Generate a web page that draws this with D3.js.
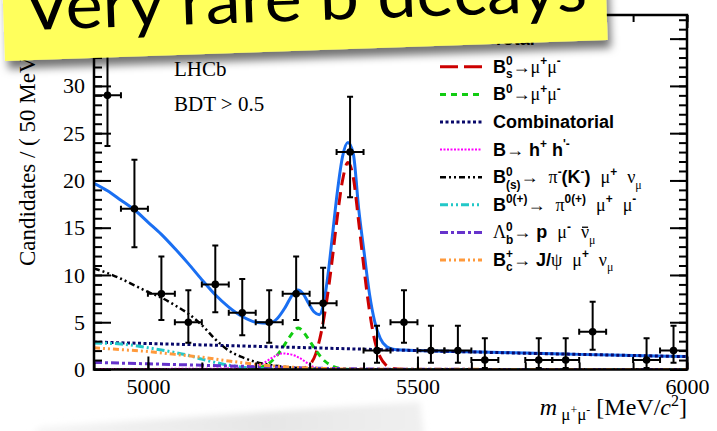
<!DOCTYPE html>
<html>
<head>
<meta charset="utf-8">
<script src="https://cdn.jsdelivr.net/npm/d3@7"></script>
<style>
  body { margin: 0; background: #fff; }
  svg { display: block; }
  text { white-space: pre; }
</style>
</head>
<body>
<svg id="chart" width="717" height="431"></svg>
<script>
// 50 MeV bins, centres
const binCentres = [4925, 4975, 5025, 5075, 5125, 5175, 5225, 5275, 5325, 5375, 5425,
                    5475, 5525, 5575, 5625, 5675, 5725, 5775, 5825, 5875, 5925, 5975]
const counts     = [29, 17, 8, 5, 9, 6, 5, 8, 7, 23, 2, 5, 2, 2, 1, 0, 1, 1, 4, 0, 1, 2]
const errLow     = [5.36, 4.08, 2.77, 2.16, 2.94, 2.38, 2.16, 2.77, 2.58, 4.77, 1.29,
                    2.16, 1.29, 1.29, 0.83, 0, 0.83, 0.83, 1.91, 0, 0.83, 1.29]
const errHigh    = [6.44, 5.20, 3.95, 3.38, 4.11, 3.58, 3.38, 3.95, 3.77, 5.86, 2.64,
                    3.38, 2.64, 2.64, 2.30, 1.84, 2.30, 2.30, 3.16, 1.84, 2.30, 2.64]

// fit components: [mass, candidates]
const totalFit = [[4900,19.7],[4925,18.9],[4950,17.9],[4975,16.9],[5000,15.6],[5025,14.3],[5050,12.8],
  [5075,11.2],[5100,9.5],[5125,7.9],[5150,6.6],[5175,5.6],[5200,5.0],[5225,4.9],[5240,5.4],[5255,6.6],
  [5268,7.9],[5278,8.4],[5288,8.0],[5298,7.0],[5308,6.1],[5318,5.8],[5326,7.0],[5334,10.0],[5342,14.0],
  [5351,18.6],[5361,22.5],[5371,24.0],[5381,22.8],[5391,17.0],[5401,12.4],[5411,8.0],[5421,5.0],
  [5431,3.3],[5443,2.4],[5455,2.15],[5475,2.06],[5500,2.0],[5600,1.88],[5700,1.74],[5800,1.6],
  [5900,1.48],[6000,1.38]]
const bsFit = [[4900,0],[5260,0],[5285,0.08],[5300,0.5],[5311,1.6],[5321,3.8],[5331,7.0],[5341,11.2],
  [5351,16.0],[5361,20.0],[5371,21.9],[5381,20.3],[5391,15.6],[5401,10.6],[5411,6.2],[5421,3.0],
  [5431,1.3],[5441,0.5],[5451,0.15],[5470,0.02],[5500,0],[6000,0]]
const bdFit = [[4900,0],[5180,0],[5200,0.1],[5215,0.35],[5230,0.9],[5245,1.9],[5260,3.2],[5270,4.0],
  [5279,4.4],[5288,4.0],[5298,3.2],[5313,1.9],[5328,0.9],[5343,0.35],[5358,0.1],[5380,0],[6000,0]]
const combFit = [[4900,2.9],[5000,2.75],[5100,2.6],[5200,2.45],[5300,2.3],[5400,2.15],[5500,2.0],
  [5600,1.86],[5700,1.72],[5800,1.6],[5900,1.48],[6000,1.36]]
const hhFit = [[4900,0.05],[5100,0.08],[5150,0.12],[5190,0.3],[5215,0.7],[5232,1.3],[5249,1.7],
  [5265,1.6],[5282,1.2],[5295,0.7],[5306,0.3],[5320,0.1],[5350,0.03],[6000,0.02]]
const pimunuFit = [[4900,10.7],[4925,10.2],[4950,9.6],[4975,8.9],[5000,8.2],[5025,7.6],[5050,6.8],
  [5075,5.9],[5100,4.7],[5125,3.2],[5150,2.0],[5175,1.3],[5200,0.8],[5225,0.5],[5250,0.3],
  [5300,0.1],[5350,0.02],[5400,0],[6000,0]]
const pimumuFit = [[4900,2.8],[4950,2.7],[5000,2.3],[5050,1.8],[5075,1.5],[5100,1.1],[5125,0.75],
  [5150,0.45],[5175,0.25],[5200,0.12],[5250,0.04],[5300,0.01],[6000,0]]
const lambdaFit = [[4900,0.75],[5000,0.6],[5100,0.45],[5200,0.3],[5300,0.15],[5400,0.06],[5500,0.02],[6000,0]]
const bcFit = [[4900,2.3],[4950,2.1],[5000,1.9],[5050,1.6],[5100,1.3],[5150,0.9],[5200,0.55],
  [5250,0.3],[5300,0.15],[5350,0.07],[5400,0.03],[6000,0]]

const legendLabels = [
  "Total",
  "B^{0}_{s}→μ^{+}μ^{-}",
  "B^{0}→μ^{+}μ^{-}",
  "Combinatorial",
  "B→ h^{+} h^{'-}",
  "B^{0}_{(s)}→  π^{-}(K^{-})  μ^{+}  ν_{μ}",
  "B^{0(+)}→  π^{0(+)}  μ^{+}  μ^{-}",
  "Λ^{0}_{b}→ p  μ^{-}  !{ν}_{μ}",
  "B^{+}_{c}→ J/ψ  μ^{+}  ν_{μ}"
]

const xMajorTicks = [5000, 5500, 6000]
const yMajorTicks = [0, 5, 10, 15, 20, 25, 30, 35]

const serif = "'Liberation Serif', 'Times New Roman', serif"
const sans = "'Liberation Sans', Arial, sans-serif"

const svg = d3.select('#chart')
const pLeft = 94, pRight = 687, pTop = 15, pBottom = 369.5

const x = d3.scaleLinear().domain([4900, 6000]).range([pLeft, pRight])
const y = d3.scaleLinear().domain([0, 37.5]).range([pBottom, pTop])

const defs = svg.append('defs')
defs.append('clipPath').attr('id', 'plotClip')
  .append('rect').attr('x', pLeft).attr('y', pTop).attr('width', pRight - pLeft).attr('height', pBottom - pTop)

const shadow = defs.append('filter').attr('id', 'shadow')
  .attr('x', '-10%').attr('y', '-50%').attr('width', '125%').attr('height', '220%')
shadow.append('feDropShadow').attr('dx', 3).attr('dy', 8).attr('stdDeviation', 4.5)
  .attr('flood-color', '#000').attr('flood-opacity', 0.55)

const blur = defs.append('filter').attr('id', 'blur')
blur.append('feGaussianBlur').attr('stdDeviation', 3)

const smudge = defs.append('linearGradient').attr('id', 'smudge')
smudge.append('stop').attr('offset', '0%').attr('stop-color', '#f6f6f6')
smudge.append('stop').attr('offset', '60%').attr('stop-color', '#e6e6e6')
smudge.append('stop').attr('offset', '100%').attr('stop-color', '#f0f0f0')

// faint paper shadow below the plot
svg.append('path')
  .attr('d', 'M30,436 L40,427 L420,402 L424,436 Z')
  .attr('fill', 'url(#smudge)')
  .attr('filter', 'url(#blur)')

const fitCurves = [
  { data: totalFit,  colour: '#1a6ff2', width: 3,   dash: null },
  { data: bsFit,     colour: '#cc0000', width: 3,   dash: '13 7' },
  { data: bdFit,     colour: '#11cc11', width: 3,   dash: '6 5' },
  { data: combFit,   colour: '#08086a', width: 3,   dash: '3 2.5' },
  { data: hhFit,     colour: '#ff00ff', width: 2,   dash: '2 1.5' },
  { data: pimunuFit, colour: '#000000', width: 2.5, dash: '6 3 2 3 2 3' },
  { data: pimumuFit, colour: '#22c8c8', width: 3,   dash: '8 3 2 3 2 3' },
  { data: lambdaFit, colour: '#6633cc', width: 3,   dash: '8 3 3 3' },
  { data: bcFit,     colour: '#ff9a3c', width: 3,   dash: '6 3 2 3 2 3' }
]

const line = d3.line()
  .x(d => x(d[0]))
  .y(d => y(d[1]))
  .curve(d3.curveMonotoneX)

const plot = svg.append('g').attr('clip-path', 'url(#plotClip)')

plot.selectAll('path.fit').data(fitCurves)
  .join('path')
  .attr('class', 'fit')
  .attr('d', d => line(d.data))
  .attr('fill', 'none')
  .attr('stroke', d => d.colour)
  .attr('stroke-width', d => d.width)
  .attr('stroke-dasharray', d => d.dash)

// data points with Poisson error bars
const points = binCentres.map((m, i) => ({ m, n: counts[i], lo: errLow[i], hi: errHigh[i] }))
  .filter(d => d.n > 0)

const pts = plot.selectAll('g.pt').data(points)
  .join('g')
  .attr('class', 'pt')
  .attr('stroke', '#000')
  .attr('stroke-width', 2)

pts.append('line')
  .attr('x1', d => x(d.m)).attr('x2', d => x(d.m))
  .attr('y1', d => y(d.n - d.lo)).attr('y2', d => y(d.n + d.hi))
pts.append('line')
  .attr('x1', d => x(d.m - 25)).attr('x2', d => x(d.m + 25))
  .attr('y1', d => y(d.n)).attr('y2', d => y(d.n))
pts.each(function(d) {
  const g = d3.select(this)
  const cx = x(d.m), cy = y(d.n)
  g.append('line').attr('x1', cx - 3).attr('x2', cx + 3).attr('y1', y(d.n + d.hi)).attr('y2', y(d.n + d.hi))
  g.append('line').attr('x1', cx - 3).attr('x2', cx + 3).attr('y1', y(d.n - d.lo)).attr('y2', y(d.n - d.lo))
  g.append('line').attr('x1', x(d.m - 25)).attr('x2', x(d.m - 25)).attr('y1', cy - 3).attr('y2', cy + 3)
  g.append('line').attr('x1', x(d.m + 25)).attr('x2', x(d.m + 25)).attr('y1', cy - 3).attr('y2', cy + 3)
})
pts.append('circle')
  .attr('cx', d => x(d.m)).attr('cy', d => y(d.n))
  .attr('r', 3.8)
  .attr('fill', '#000')
  .attr('stroke', 'none')

// axes: ticks point into the frame, like ROOT
function styleAxis(g) {
  g.select('.domain').remove()
  g.selectAll('.tick line').attr('stroke', '#000').attr('stroke-width', 2)
  g.selectAll('.tick text').attr('font-family', serif).attr('font-size', 22).attr('fill', '#000')
}

const xMinor = d3.range(4900, 6001, 100)
const yMinor = d3.range(0, 38, 1)

svg.append('g').attr('transform', `translate(0,${pBottom})`)
  .call(d3.axisBottom(x).tickValues(xMinor).tickSize(-7).tickFormat(''))
  .call(styleAxis)
svg.append('g').attr('transform', `translate(0,${pBottom})`)
  .call(d3.axisBottom(x).tickValues(xMajorTicks).tickSize(-13).tickFormat(d3.format('d')))
  .call(styleAxis)
  .selectAll('.tick text').attr('dy', '0.71em').attr('y', 8.5)
svg.append('g').attr('transform', `translate(0,${pTop})`)
  .call(d3.axisTop(x).tickValues(xMinor).tickSize(-7).tickFormat(''))
  .call(styleAxis)
svg.append('g').attr('transform', `translate(0,${pTop})`)
  .call(d3.axisTop(x).tickValues(xMajorTicks).tickSize(-13).tickFormat(''))
  .call(styleAxis)

svg.append('g').attr('transform', `translate(${pLeft},0)`)
  .call(d3.axisLeft(y).tickValues(yMinor).tickSize(-8).tickFormat(''))
  .call(styleAxis)
svg.append('g').attr('transform', `translate(${pLeft},0)`)
  .call(d3.axisLeft(y).tickValues(yMajorTicks).tickSize(-17).tickFormat(d3.format('d')))
  .call(styleAxis)
  .selectAll('.tick text').attr('x', -9).attr('text-anchor', 'end')
svg.append('g').attr('transform', `translate(${pRight},0)`)
  .call(d3.axisRight(y).tickValues(yMinor).tickSize(-8).tickFormat(''))
  .call(styleAxis)
svg.append('g').attr('transform', `translate(${pRight},0)`)
  .call(d3.axisRight(y).tickValues(yMajorTicks).tickSize(-17).tickFormat(''))
  .call(styleAxis)

svg.append('rect')
  .attr('x', pLeft).attr('y', pTop)
  .attr('width', pRight - pLeft).attr('height', pBottom - pTop)
  .attr('fill', 'none')
  .attr('stroke', '#000')
  .attr('stroke-width', 2.5)

// axis titles
const xTitle = svg.append('text')
  .attr('x', pRight).attr('y', 415)
  .attr('text-anchor', 'end')
  .attr('font-family', serif).attr('font-size', 24)
xTitle.append('tspan').attr('font-style', 'italic').text('m')
xTitle.append('tspan').attr('font-size', 17).attr('dy', 5).text(' μ')
xTitle.append('tspan').attr('font-size', 12).attr('dy', -6).text('+')
xTitle.append('tspan').attr('font-size', 17).attr('dy', 6).text('μ')
xTitle.append('tspan').attr('font-size', 12).attr('dy', -6).text('-')
xTitle.append('tspan').attr('dy', 1).text(' [MeV/')
xTitle.append('tspan').attr('font-style', 'italic').text('c')
xTitle.append('tspan').attr('font-size', 16).attr('dy', -9).text('2')
xTitle.append('tspan').attr('dy', 9).text(']')

const yTitle = svg.append('text')
  .attr('transform', 'translate(35,266) rotate(-90)')
  .attr('font-family', serif).attr('font-size', 23)
yTitle.append('tspan').text('Candidates / ( 50 MeV/')
yTitle.append('tspan').attr('font-style', 'italic').text('c')
yTitle.append('tspan').attr('font-size', 15).attr('dy', -9).text('2')
yTitle.append('tspan').attr('dy', 9).text(' )')

svg.append('text').attr('x', 174).attr('y', 76)
  .attr('font-family', serif).attr('font-size', 21).text('LHCb')
svg.append('text').attr('x', 174).attr('y', 111)
  .attr('font-family', serif).attr('font-size', 21).text('BDT > 0.5')

// legend, with a tiny ^{} _{} markup parser
const greekRe = /[\u0370-\u03ff\u2190-\u21ff]+|[^\u0370-\u03ff\u2190-\u21ff]+/g

function drawRun(g, txt, x0, y0, size) {
  let w = 0
  txt.match(greekRe).forEach(part => {
    const isGreek = /[\u0370-\u03ff\u2190-\u21ff]/.test(part)
    const t = g.append('text')
      .attr('x', x0 + w).attr('y', y0)
      .attr('font-size', size)
      .attr('font-family', isGreek ? serif : sans)
      .attr('font-weight', isGreek ? 'normal' : 'bold')
      .text(part)
    w += t.node().getComputedTextLength()
  })
  return w
}

function drawRich(g, str, x0, y0, size) {
  const tokens = str.match(/\^\{[^}]*\}|_\{[^}]*\}|!\{[^}]*\}|[^^_!]+/g)
  let cx = x0
  let lastSup = null
  tokens.forEach(tok => {
    const inner = tok.slice(2, -1)
    if (tok.startsWith('^{')) {
      const w = drawRun(g, inner, cx, y0 - size * 0.42, size * 0.66)
      lastSup = { start: cx, end: cx + w }
      cx += w
    } else if (tok.startsWith('_{')) {
      if (lastSup && lastSup.end === cx) {
        const w = drawRun(g, inner, lastSup.start, y0 + size * 0.3, size * 0.66)
        cx = Math.max(cx, lastSup.start + w)
      } else {
        cx += drawRun(g, inner, cx, y0 + size * 0.3, size * 0.66)
      }
      lastSup = null
    } else if (tok.startsWith('!{')) {
      const w = drawRun(g, inner, cx, y0, size)
      g.append('line')
        .attr('x1', cx + 1).attr('x2', cx + w - 1)
        .attr('y1', y0 - size * 0.62).attr('y2', y0 - size * 0.62)
        .attr('stroke', '#000').attr('stroke-width', 1.3)
      cx += w
      lastSup = null
    } else {
      cx += drawRun(g, tok, cx, y0, size)
      lastSup = null
    }
  })
}

const legend = svg.append('g')
legendLabels.forEach((label, i) => {
  const base = 45.2 + i * 27.6
  const c = fitCurves[i]
  legend.append('line')
    .attr('x1', 440).attr('x2', 482)
    .attr('y1', base - 6).attr('y2', base - 6)
    .attr('stroke', c.colour)
    .attr('stroke-width', c.width)
    .attr('stroke-dasharray', i == 1 ? '18 6' : c.dash)
  drawRich(legend, label, 493, base, 18)
})

// yellow sticky banner on top
const banner = svg.append('g').attr('transform', 'translate(5,61) rotate(-2.0)')
banner.append('rect')
  .attr('x', 0).attr('y', -100)
  .attr('width', 603).attr('height', 100)
  .attr('fill', '#ffff5c')
  .attr('filter', 'url(#shadow)')
banner.append('text')
  .attr('x', 20).attr('y', -30)
  .attr('font-family', "Lato, 'Open Sans', sans-serif")
  .attr('font-size', 66)
  .attr('textLength', 564)
  .attr('lengthAdjust', 'spacingAndGlyphs')
  .attr('fill', '#000')
  .text('Very rare b decays')
</script>
</body>
</html>
